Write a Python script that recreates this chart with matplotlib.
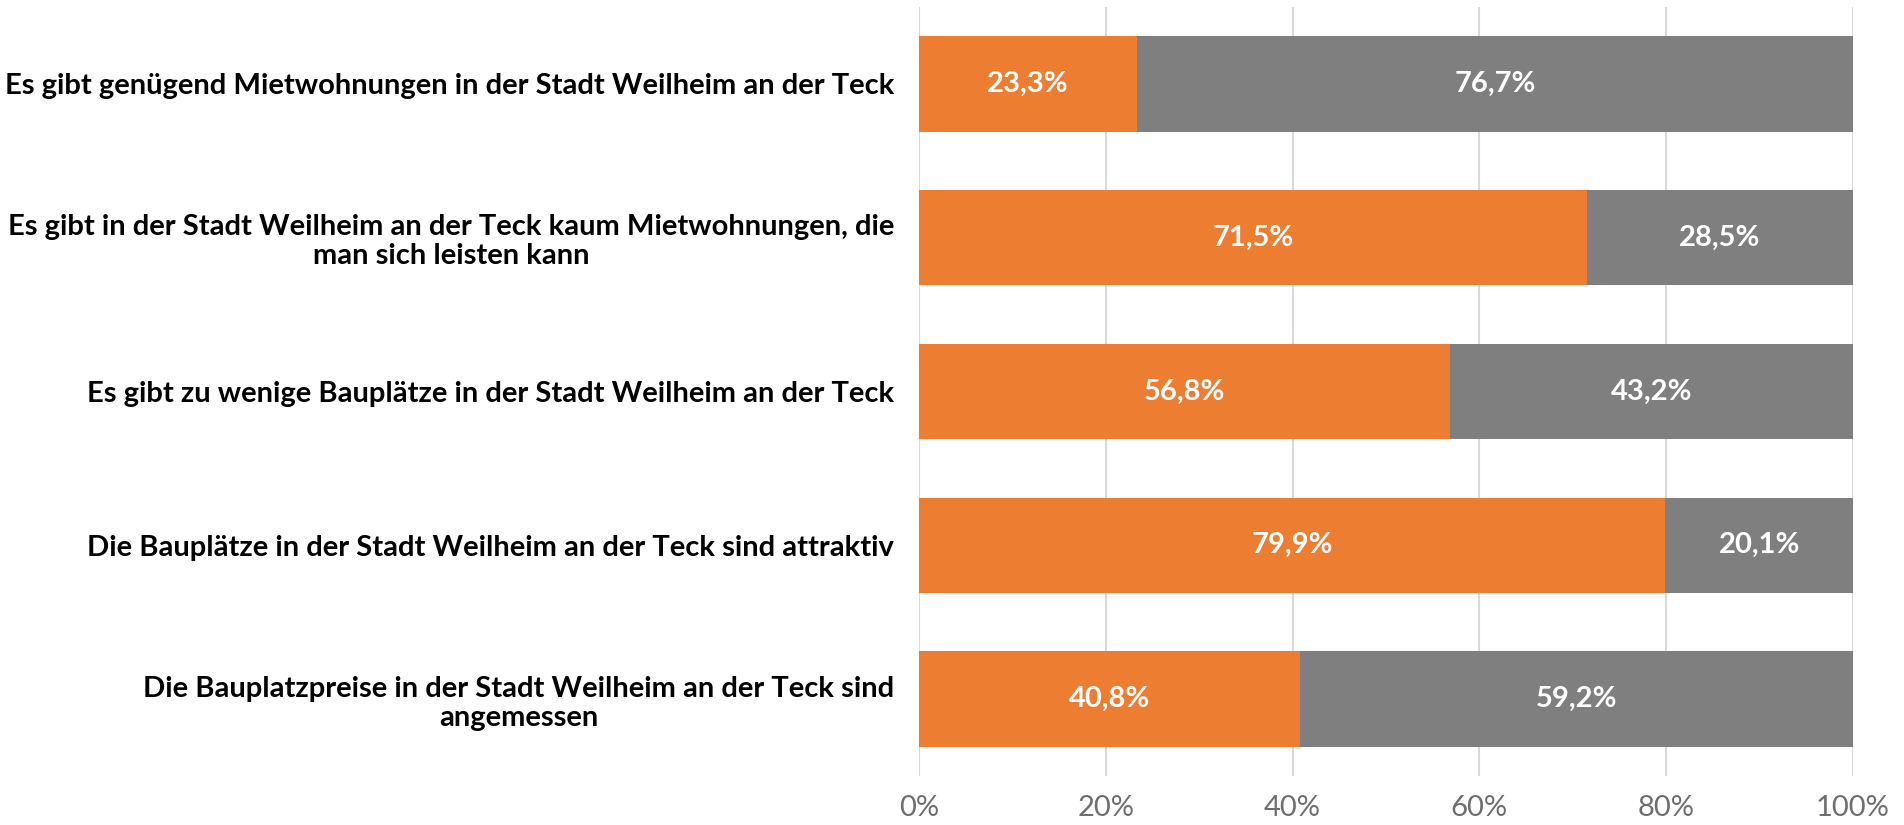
import matplotlib.pyplot as plt

# --- Data ---
statements = [
    "Es gibt genügend Mietwohnungen in der Stadt Weilheim an der Teck",
    "Es gibt in der Stadt Weilheim an der Teck kaum Mietwohnungen, die\nman sich leisten kann",
    "Es gibt zu wenige Bauplätze in der Stadt Weilheim an der Teck",
    "Die Bauplätze in der Stadt Weilheim an der Teck sind attraktiv",
    "Die Bauplatzpreise in der Stadt Weilheim an der Teck sind\nangemessen",
]
agree = [23.3, 71.5, 56.8, 79.9, 40.8]
disagree = [76.7, 28.5, 43.2, 20.1, 59.2]
xticks = [0, 20, 40, 60, 80, 100]

ORANGE = "#ED7D31"
GREY = "#7F7F7F"

plt.rcParams["font.family"] = ["Lato", "DejaVu Sans"]

fig = plt.figure(figsize=(19.04, 8.25), dpi=100)
ax = fig.add_axes([0.4827, 0.0594, 0.4905, 0.9321])

pos = list(range(len(statements)))
bars1 = ax.barh(pos, agree, height=0.62, color=ORANGE, zorder=2)
bars2 = ax.barh(pos, disagree, left=agree, height=0.62, color=GREY, zorder=2)

# white value labels centred in each segment
for vals, lefts in ((agree, [0] * len(agree)), (disagree, agree)):
    for p, v, l in zip(pos, vals, lefts):
        ax.text(l + v / 2, p, f"{v:.1f}%".replace(".", ","), ha="center", va="center",
                color="white", fontsize=21, fontweight="bold", zorder=3)

ax.set_xlim(0, 100)
ax.set_ylim(len(statements) - 0.5, -0.5)
ax.set_xticks(xticks)
ax.set_xticklabels([f"{t}%" for t in xticks], color="#6E6E6E", fontsize=21)
ax.set_yticks(pos)
ax.set_yticklabels(statements, fontsize=21, fontweight="bold", multialignment="center",
                   linespacing=1.15)

ax.tick_params(axis="y", length=0, pad=18)
ax.tick_params(axis="x", length=0, pad=14)
ax.grid(axis="x", color="#D9D9D9", linewidth=1.5, zorder=0)
ax.set_axisbelow(True)
for s in ax.spines.values():
    s.set_visible(False)

fig.savefig("out.png", dpi=100)
